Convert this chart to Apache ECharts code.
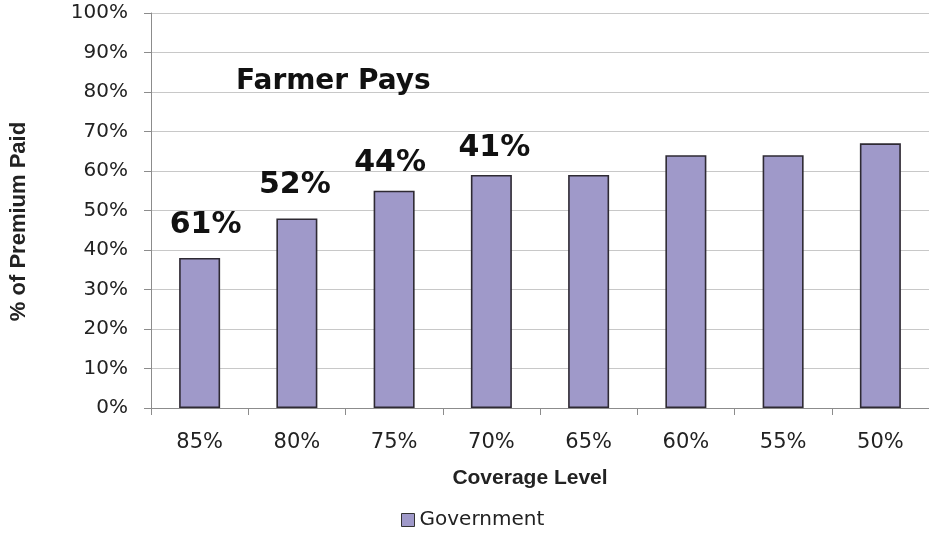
<!DOCTYPE html>
<html>
<head>
<meta charset="utf-8">
<title>Premium Subsidy by Coverage Level</title>
<script src="https://cdn.jsdelivr.net/npm/echarts@6/dist/echarts.min.js"></script>
<style>
  html, body { margin: 0; padding: 0; background: #ffffff; }
  #chart { width: 929px; height: 539px; }
</style>
</head>
<body>
<div id="chart"></div>
<script>
// Coverage levels, highest first
const coverageLevels = ['85%', '80%', '75%', '70%', '65%', '60%', '55%', '50%'];
// Share of the premium paid by the government (%)
const governmentShare = [38, 48, 55, 59, 59, 64, 64, 67];
// Share paid by the farmer, annotated over the first four bars (%)
const farmerPays = [61, 52, 44, 41];
// Value-axis ticks
const yMin = 0, yMax = 100, yStep = 10;

// Pixel nudges for the farmer annotations (style only)
const farmerLabelOffsets = [[6, -13], [-2, -13], [-4, -8], [3, -7]];

const chart = echarts.init(document.getElementById('chart'), null, { renderer: 'canvas' });

const barData = governmentShare.map((v, i) => {
  const item = { value: v };
  if (i < farmerPays.length) {
    item.label = {
      show: true,
      position: 'top',
      distance: 5,
      offset: farmerLabelOffsets[i],
      formatter: farmerPays[i] + '%',
      fontFamily: 'DejaVu Sans',
      fontWeight: 'bold',
      fontSize: 30,
      color: '#111111'
    };
  }
  return item;
});

chart.setOption({
  backgroundColor: '#ffffff',
  animation: false,
  title: {
    text: 'Farmer Pays',
    left: 231,
    top: 63,
    textStyle: { fontFamily: 'DejaVu Sans', fontWeight: 'bold', fontSize: 28, color: '#111111' }
  },
  legend: {
    bottom: 4,
    left: 396,
    icon: 'rect',
    itemWidth: 13,
    itemHeight: 13,
    itemGap: 6,
    itemStyle: { borderColor: '#333333', borderWidth: 1 },
    textStyle: { fontFamily: 'DejaVu Sans', fontSize: 20, color: '#222222' },
    data: ['Government']
  },
  grid: { left: 148, right: 0, top: 13, bottom: 131, containLabel: false },
  xAxis: {
    type: 'category',
    data: coverageLevels,
    boundaryGap: true,
    name: 'Coverage Level',
    nameLocation: 'middle',
    nameGap: 60,
    nameTextStyle: {
      fontFamily: 'Liberation Sans', fontWeight: 'bold', fontSize: 21, color: '#222222',
      padding: [0, 20, 0, 0]
    },
    axisLine: { lineStyle: { color: '#8c8c8c', width: 1 } },
    axisTick: { show: true, alignWithLabel: false, length: 7, lineStyle: { color: '#8c8c8c' } },
    axisLabel: { margin: 24, fontFamily: 'DejaVu Sans', fontSize: 21, color: '#222222' }
  },
  yAxis: {
    type: 'value',
    min: yMin,
    max: yMax,
    interval: yStep,
    name: '% of Premium Paid',
    nameLocation: 'middle',
    nameRotate: 90,
    nameGap: 121,
    nameTextStyle: {
      fontFamily: 'Liberation Sans', fontWeight: 'bold', fontSize: 22, color: '#222222',
      padding: [0, 22, 0, 0]
    },
    axisLine: { show: true, lineStyle: { color: '#8c8c8c', width: 1 } },
    axisTick: { show: true, length: 7, lineStyle: { color: '#8c8c8c' } },
    axisLabel: {
      margin: 23,
      formatter: '{value}%',
      fontFamily: 'DejaVu Sans',
      fontSize: 20,
      color: '#222222'
    },
    splitLine: { show: true, lineStyle: { color: '#c8c8c8', width: 1 } }
  },
  series: [{
    name: 'Government',
    type: 'bar',
    barWidth: 41,
    data: barData,
    itemStyle: { color: '#9f99c9', borderColor: '#2e2a33', borderWidth: 1.6 }
  }]
});
</script>
</body>
</html>
